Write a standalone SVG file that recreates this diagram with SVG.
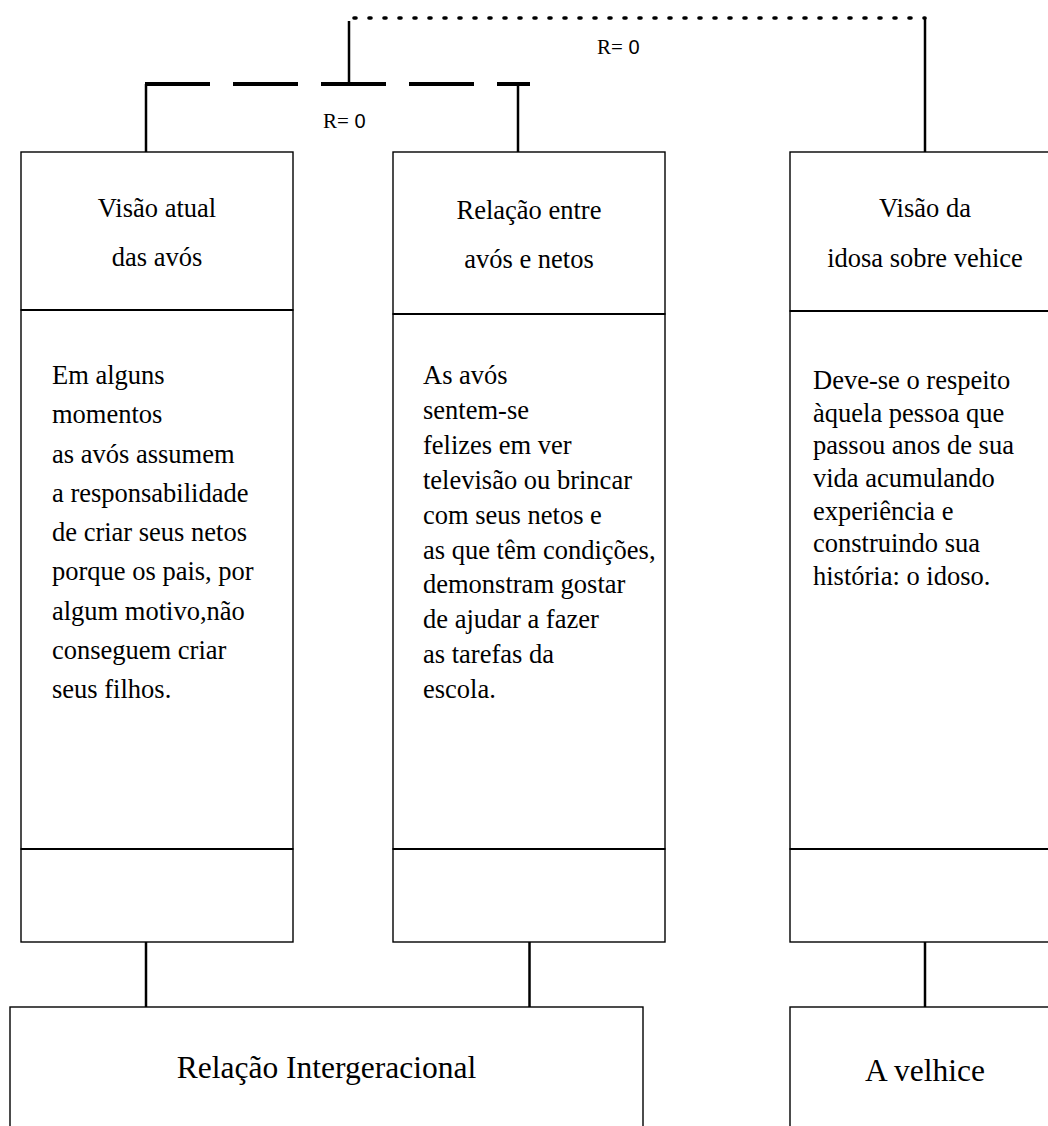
<svg xmlns="http://www.w3.org/2000/svg" width="1048" height="1126" viewBox="0 0 1048 1126">
<style>
  .box { fill: #fff; stroke: #000; stroke-width: 1.4; }
  .div { stroke: #000; stroke-width: 2; }
  .t { font-family: "Liberation Serif", "Times New Roman", serif; font-size: 26.5px; fill: #000; }
  .c { text-anchor: middle; }
  .big { font-family: "Liberation Serif", "Times New Roman", serif; font-size: 31.5px; fill: #000; text-anchor: middle; }
  .lbl { font-family: "Liberation Serif", "Times New Roman", serif; font-size: 21px; fill: #000; }
  .lbl0 { font-family: "Liberation Sans", Arial, sans-serif; font-size: 20px; }
  .con { stroke: #000; stroke-width: 2.5; fill: none; }
  .dash { stroke: #000; stroke-width: 4; stroke-dasharray: 65 23; fill: none; }
  .dot { stroke: #000; stroke-width: 3.6; stroke-dasharray: 2 13; stroke-linecap: round; fill: none; }
</style>

<g id="connectors">
  <line class="dash" x1="145" y1="84" x2="530" y2="84"/>
  <line class="con" x1="146" y1="84" x2="146" y2="152"/>
  <line class="con" x1="518" y1="84" x2="518" y2="152"/>
  <line class="con" x1="349" y1="21" x2="349" y2="84"/>
  <line class="dot" x1="354" y1="18" x2="925" y2="18"/>
  <line class="con" x1="925" y1="18" x2="925" y2="152"/>
  <line class="con" x1="146" y1="942" x2="146" y2="1007"/>
  <line class="con" x1="529.5" y1="942" x2="529.5" y2="1007"/>
  <line class="con" x1="925" y1="942" x2="925" y2="1007"/>
  <text class="lbl" x="323" y="128">R=<tspan class="lbl0"> 0</tspan></text>
  <text class="lbl" x="597" y="54">R=<tspan class="lbl0"> 0</tspan></text>
</g>

<g id="node-visao-atual">
  <rect class="box" x="21" y="152" width="272" height="158"/>
  <text class="t c" x="157" y="217">Visão atual</text>
  <text class="t c" x="157" y="266">das avós</text>
</g>
<g id="node-visao-atual-texto">
  <rect class="box" x="21" y="310" width="272" height="539"/>
  <line class="div" x1="21" y1="310" x2="293" y2="310"/>
  <text class="t" x="52" y="384">
    <tspan x="52" y="384">Em alguns</tspan>
    <tspan x="52" y="423.3">momentos</tspan>
    <tspan x="52" y="462.5">as avós assumem</tspan>
    <tspan x="52" y="501.8">a responsabilidade</tspan>
    <tspan x="52" y="541">de criar seus netos</tspan>
    <tspan x="52" y="580.3">porque os pais, por</tspan>
    <tspan x="52" y="619.5">algum motivo,não</tspan>
    <tspan x="52" y="658.8">conseguem criar</tspan>
    <tspan x="52" y="698">seus filhos.</tspan>
  </text>
</g>
<g id="node-visao-atual-rodape">
  <rect class="box" x="21" y="849" width="272" height="93"/>
  <line class="div" x1="21" y1="849" x2="293" y2="849"/>
</g>

<g id="node-relacao-avos-netos">
  <rect class="box" x="393" y="152" width="272" height="162"/>
  <text class="t c" x="529" y="219">Relação entre</text>
  <text class="t c" x="529" y="268">avós e netos</text>
</g>
<g id="node-relacao-texto">
  <rect class="box" x="393" y="314" width="272" height="535"/>
  <line class="div" x1="393" y1="314" x2="665" y2="314"/>
  <text class="t" x="423" y="384">
    <tspan x="423" y="384">As avós</tspan>
    <tspan x="423" y="418.9">sentem-se</tspan>
    <tspan x="423" y="453.8">felizes em ver</tspan>
    <tspan x="423" y="488.7">televisão ou brincar</tspan>
    <tspan x="423" y="523.6">com seus netos e</tspan>
    <tspan x="423" y="558.5">as que têm condições,</tspan>
    <tspan x="423" y="593.4">demonstram gostar</tspan>
    <tspan x="423" y="628.3">de ajudar a fazer</tspan>
    <tspan x="423" y="663.2">as tarefas da</tspan>
    <tspan x="423" y="698">escola.</tspan>
  </text>
</g>
<g id="node-relacao-rodape">
  <rect class="box" x="393" y="849" width="272" height="93"/>
  <line class="div" x1="393" y1="849" x2="665" y2="849"/>
</g>

<g id="node-visao-idosa">
  <rect class="box" x="790" y="152" width="270" height="159"/>
  <text class="t c" x="925" y="217">Visão da</text>
  <text class="t c" x="925" y="267">idosa sobre vehice</text>
</g>
<g id="node-visao-idosa-texto">
  <rect class="box" x="790" y="311" width="270" height="538"/>
  <line class="div" x1="790" y1="311" x2="1060" y2="311"/>
  <text class="t" x="813" y="389">
    <tspan x="813" y="389">Deve-se o respeito</tspan>
    <tspan x="813" y="421.7">àquela pessoa que</tspan>
    <tspan x="813" y="454.3">passou anos de sua</tspan>
    <tspan x="813" y="487">vida acumulando</tspan>
    <tspan x="813" y="519.7">experiência e</tspan>
    <tspan x="813" y="552.3">construindo sua</tspan>
    <tspan x="813" y="585">história: o idoso.</tspan>
  </text>
</g>
<g id="node-visao-idosa-rodape">
  <rect class="box" x="790" y="849" width="270" height="93"/>
  <line class="div" x1="790" y1="849" x2="1060" y2="849"/>
</g>

<g id="node-relacao-intergeracional">
  <rect class="box" x="10" y="1007" width="633" height="140"/>
  <text class="big" x="326.5" y="1078">Relação Intergeracional</text>
</g>
<g id="node-a-velhice">
  <rect class="box" x="790" y="1007" width="270" height="140"/>
  <text class="big" x="925" y="1081">A velhice</text>
</g>
</svg>
